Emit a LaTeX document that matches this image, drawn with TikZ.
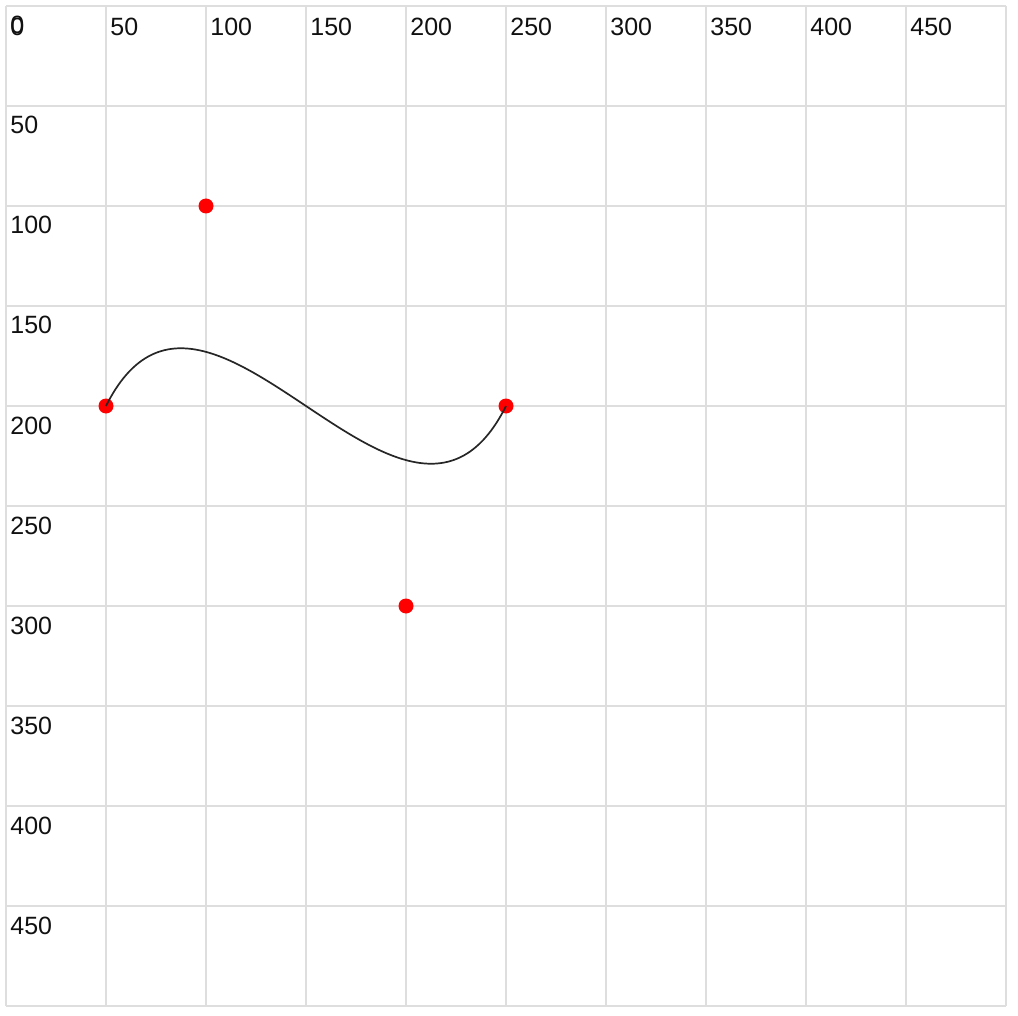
\documentclass[tikz,border=0pt]{standalone}
\usepackage{fontspec}
\setmainfont{Liberation Sans}
\usetikzlibrary{positioning}
\definecolor{gridgray}{HTML}{DEDEDE}
\definecolor{dotred}{HTML}{FF0000}
\definecolor{labelink}{HTML}{111111}

\begin{document}
\begin{tikzpicture}[
    x=1pt, y=-1pt,
    every node/.style={inner sep=0pt},
    gridline/.style={draw=gridgray, line width=1pt},
    ticklabel/.style={font=\fontsize{12.5}{14}\selectfont, text=labelink, anchor=base west},
    ctrldot/.style={circle, fill=dotred, minimum size=7.5pt},
    curvestyle/.style={draw=black!85, line width=0.85pt},
]

% === Canvas ===
\useasboundingbox (-3,-3) rectangle (506,505);

% === Grid ===
\foreach \v in {0,50,...,500} {
    \draw[gridline] (\v,0) -- (\v,500);
    \draw[gridline] (0,\v) -- (500,\v);
}

% === Tick labels ===
\foreach \v in {0,50,...,450} {
    \node[ticklabel] (top\v) at (\v+2,15) {\v};
    \node[ticklabel] (left\v) at (2,\v+14) {\v};
}

% === Points ===
\node[ctrldot] (start) at (50,200) {};
\node[ctrldot] (ctrlA) at (100,100) {};
\node[ctrldot] (ctrlB) at (200,300) {};
\node[ctrldot] (finish) at (250,200) {};

% === Bezier curve ===
\draw[curvestyle] (start.center) .. controls (ctrlA.center) and (ctrlB.center) .. (finish.center);

\end{tikzpicture}
\end{document}
